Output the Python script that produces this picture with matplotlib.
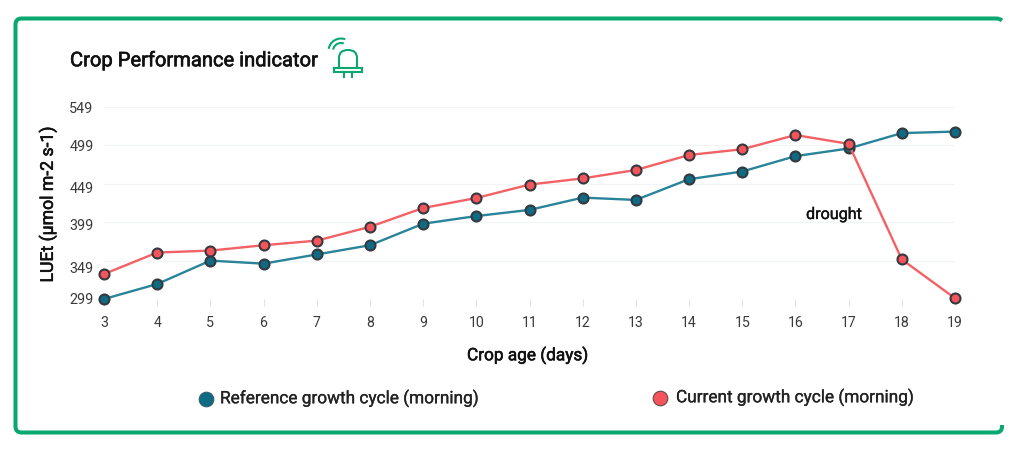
import matplotlib
matplotlib.use("Agg")
import matplotlib.pyplot as plt
import matplotlib.patheffects as pe
from matplotlib.lines import Line2D
from matplotlib.patches import Arc, PathPatch, Rectangle
from matplotlib.path import Path
from matplotlib.transforms import ScaledTranslation

crop_age = list(range(3, 20))
reference_cycle = [299, 318.5, 349, 345, 357, 369, 397, 407, 415, 431, 428, 455, 465, 485, 495, 515, 517]
current_cycle = [331.5, 359.5, 362, 369, 375, 393, 417.5, 430.5, 448, 456, 467, 486.5, 494, 512.5, 501, 350.5, 300]
y_ticks = [299, 349, 399, 449, 499, 549]
y_label_nudge_px = [0, -6.5, -2.5, -3.5, 0, -0.5]

TEAL = "#0f6a84"
TEAL_LINE = "#2a8499"
RED = "#f4545a"
RED_LINE = "#f46165"
EDGE = "#333a40"
GREEN = "#0aa870"
W, H = 1024, 455

plt.rcParams["font.family"] = ["Roboto", "DejaVu Sans"]
fig = plt.figure(figsize=(W / 100, H / 100), dpi=100, facecolor="white")


def heavier(width, color="#111111"):
    return [pe.withStroke(linewidth=width, foreground=color)]


# Plot area, placed in pixel coordinates
left, right, top, bottom = 104, 955, 107, 299
ax = fig.add_axes([left / W, 1 - bottom / H, (right - left) / W, (bottom - top) / H])
ax.set_xlim(3, 19)
ax.set_ylim(299, 549)
ax.patch.set_alpha(0)
for spine in ax.spines.values():
    spine.set_visible(False)
ax.set_yticks(y_ticks)
ax.set_xticks(crop_age)
ax.grid(axis="y", color="#f3f5f5", linewidth=1)
ax.set_axisbelow(True)
ax.tick_params(axis="y", length=0, pad=7.5, labelsize=10.4, labelcolor="#3a3a3a")
ax.tick_params(axis="x", length=5, width=0.8, color="#e2e2e2", pad=7, labelsize=10.2, labelcolor="#3a3a3a")

# The y labels sit slightly off their gridlines
for label, nudge in zip(ax.get_yticklabels(), y_label_nudge_px):
    label.set_transform(label.get_transform() + ScaledTranslation(0, nudge / 100, fig.dpi_scale_trans))

ax.plot(crop_age, reference_cycle, color=TEAL_LINE, lw=1.7, marker="o", ms=7.2,
        mfc=TEAL, mec=EDGE, mew=1.5, clip_on=False, zorder=3)
ax.plot(crop_age, current_cycle, color=RED_LINE, lw=1.7, marker="o", ms=7.2,
        mfc=RED, mec=EDGE, mew=1.5, clip_on=False, zorder=4)

# Page-level overlay in pixel coordinates: frame, headings, legend, icon
ov = fig.add_axes([0, 0, 1, 1], zorder=5)
ov.set_xlim(0, W)
ov.set_ylim(H, 0)
ov.axis("off")

# Rounded frame, open on the right-hand side
x0, x1, y0, y1, r = 15.5, 1002, 18.5, 432.5, 6
frame = Path(
    [(1002, 20.5), (1000, y0), (996, y0), (x0 + r, y0), (x0, y0), (x0, y0 + r),
     (x0, y1 - r), (x0, y1), (x0 + r, y1), (x1 - r, y1), (x1, y1), (x1, y1 - r), (x1, 425)],
    [Path.MOVETO, Path.CURVE3, Path.CURVE3, Path.LINETO, Path.CURVE3, Path.CURVE3,
     Path.LINETO, Path.CURVE3, Path.CURVE3, Path.LINETO, Path.CURVE3, Path.CURVE3, Path.LINETO],
)
ov.add_patch(PathPatch(frame, fill=False, ec=GREEN, lw=2.9, capstyle="butt"))

ov.text(70, 60.5, "Crop Performance indicator", fontsize=14.5, color="#111111", va="center", ha="left",
        path_effects=heavier(0.45))
ov.text(47.5, 204.5, "LUEt (µmol m-2 s-1)", fontsize=12.7, color="#111111", rotation=90, va="center", ha="center",
        path_effects=heavier(0.4))
ov.text(527.5, 355.5, "Crop age (days)", fontsize=12.4, color="#111111", va="center", ha="center",
        path_effects=heavier(0.4))
ov.text(834, 214.5, "drought", fontsize=11.6, color="#111111", va="center", ha="center",
        path_effects=heavier(0.25))

ov.add_line(Line2D([206], [398.5], marker="o", ms=10.5, mfc=TEAL, mec="#2d5f70", mew=0.8))
ov.text(220, 398.5, "Reference growth cycle (morning)", fontsize=12.4, color="#222222", va="center", ha="left",
        path_effects=heavier(0.2, "#222222"))
ov.add_line(Line2D([660], [397.5], marker="o", ms=10.5, mfc=RED, mec="#66484a", mew=0.8))
ov.text(676, 397.5, "Current growth cycle (morning)", fontsize=12.4, color="#222222", va="center", ha="left",
        path_effects=heavier(0.2, "#222222"))

# Signal-LED icon beside the heading
icon_lw = 1.5
dome = Path([(339, 68), (339, 58), (339, 50), (348, 50), (357, 50), (357, 58), (357, 68)],
            [Path.MOVETO, Path.LINETO, Path.CURVE3, Path.CURVE3, Path.CURVE3, Path.CURVE3, Path.LINETO])
ov.add_patch(PathPatch(dome, fill=False, ec=GREEN, lw=icon_lw))
ov.add_patch(Rectangle((334, 67.5), 27.5, 4.5, fill=False, ec=GREEN, lw=icon_lw))
for lead_x in (343.5, 352):
    ov.add_line(Line2D([lead_x, lead_x], [72, 77], color=GREEN, lw=icon_lw))
for size in (16, 25):
    ov.add_patch(Arc((341, 51), size, size, theta1=190, theta2=290, ec=GREEN, lw=icon_lw))

fig.savefig("out.png", dpi=100)
